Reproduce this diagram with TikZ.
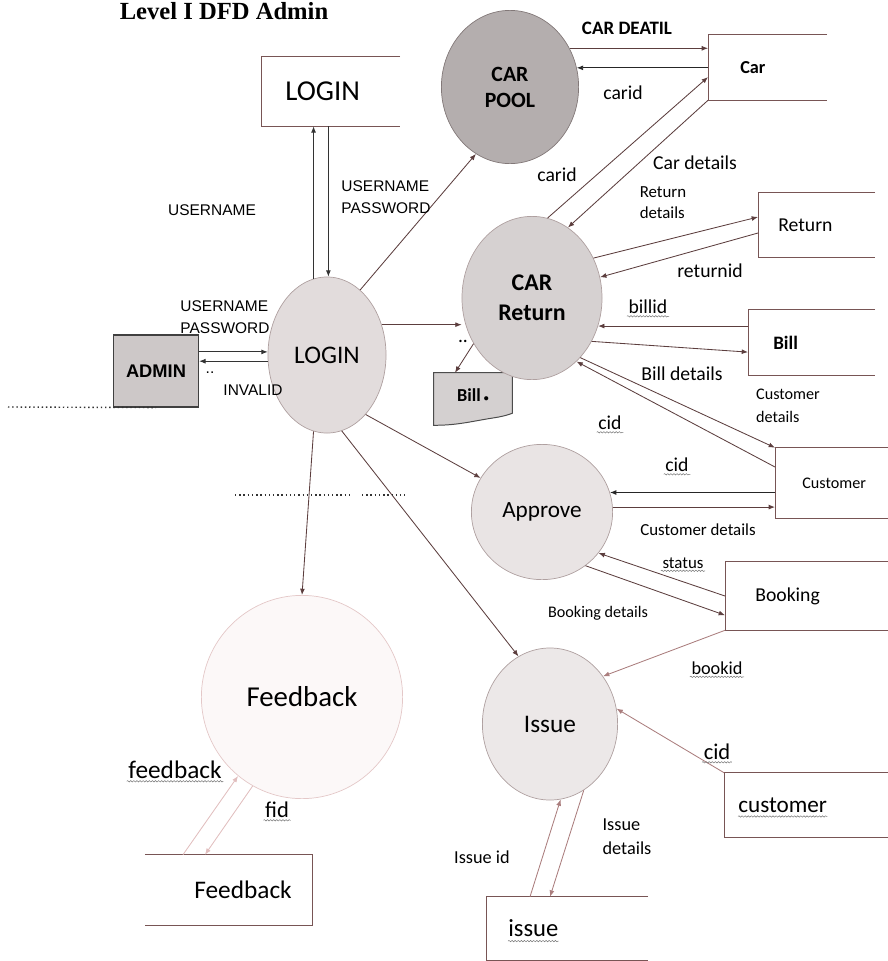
\documentclass[tikz,border=0pt]{standalone}
\usepackage{fontspec}
\setmainfont{Carlito}
\newfontfamily\arialfont{Liberation Sans}
\newfontfamily\timesfont{Liberation Serif}
\usetikzlibrary{arrows.meta,shapes.geometric,decorations.pathmorphing,backgrounds}
\definecolor{flowcol}{RGB}{92,62,62}
\definecolor{lightcol}{RGB}{170,125,125}
\definecolor{faintcol}{RGB}{225,190,190}
\definecolor{storecol}{RGB}{120,85,85}
\definecolor{procline}{RGB}{175,160,160}
\definecolor{poolline}{RGB}{130,120,120}
\definecolor{feedline}{RGB}{228,200,200}
\definecolor{poolfill}{RGB}{180,174,174}
\definecolor{retfill}{RGB}{214,209,209}
\definecolor{loginfill}{RGB}{226,220,220}
\definecolor{apprfill}{RGB}{233,228,228}
\definecolor{issuefill}{RGB}{236,232,232}
\definecolor{feedfill}{RGB}{252,248,248}
\definecolor{admfill}{RGB}{205,200,200}
\definecolor{docfill}{RGB}{212,208,208}
% open data store: top, left and bottom side
\newcommand{\openstore}[2]{\draw[storeline] ([xshift=#2]#1.north west) -- (#1.north west) -- (#1.south west) -- ([xshift=#2]#1.south west);}
\newcommand{\openstoreL}[2]{\draw[storeline] ([xshift=-#2]#1.north east) -- (#1.north east) -- (#1.south east) -- ([xshift=-#2]#1.south east);}

\begin{document}
\begin{tikzpicture}[x=0.025cm,y=-0.025cm,
    proc/.style={ellipse,draw=procline,line width=0.5pt,inner sep=0pt,align=center},
    store/.style={rectangle,anchor=west,inner ysep=0pt},
    storeline/.style={draw=storecol,line width=0.6pt},
    flow/.style={draw=flowcol,line width=0.6pt,-{Latex[length=4.5pt,width=3.5pt]}},
    lightflow/.style={flow,draw=lightcol},
    faintflow/.style={flow,draw=faintcol},
    lbl/.style={inner sep=1pt,align=left,font=\fontsize{14}{16}\selectfont},
    caps/.style={inner sep=1pt,align=left,font=\arialfont\fontsize{11}{16}\selectfont},
    squig/.style={draw=black!55,line width=0.35pt,decorate,decoration={snake,amplitude=0.5pt,segment length=2.2pt}},
    spell/.style={append after command={([yshift=-0.5pt]\tikzlastnode.south west) edge[squig] ([yshift=-0.5pt]\tikzlastnode.south east)}},
    dotline/.style={draw=black!80,dotted,line width=1pt}]
\useasboundingbox (0,0) rectangle (888,961);

\node[anchor=base,font=\timesfont\bfseries\fontsize{17.5}{20}\selectfont] (title) at (224,19) {Level I DFD Admin};

% processes
\node[proc,fill=poolfill,draw=poolline,minimum width=3.43cm,minimum height=3.83cm,font=\bfseries\fontsize{15.5}{18.5}\selectfont] (carpool) at (510,87) {CAR\\POOL};
\node[proc,fill=retfill,minimum width=3.5cm,minimum height=4.08cm,font=\bfseries\fontsize{17}{21}\selectfont] (carret) at (532,298) {CAR\\Return};
\node[proc,fill=loginfill,minimum width=2.95cm,minimum height=3.9cm,font=\fontsize{18}{20}\selectfont] (login) at (327,355) {LOGIN};
\node[proc,fill=apprfill,minimum width=3.53cm,minimum height=3.38cm,font=\fontsize{16.5}{19}\selectfont] (approve) at (542,512) {Approve};
\node[proc,fill=issuefill,minimum width=3.38cm,minimum height=3.8cm,font=\fontsize{18}{20}\selectfont] (issue) at (550,724) {Issue};
\node[proc,fill=feedfill,draw=feedline,minimum width=5.03cm,minimum height=5.08cm,font=\fontsize{20.5}{23}\selectfont] (feedback) at (302,697) {Feedback};

% admin and bill document
\node[rectangle,draw=black!75,fill=admfill,line width=0.8pt,minimum width=2.13cm,minimum height=1.8cm,font=\arialfont\bfseries\fontsize{13}{15}\selectfont] (admin) at (156,371) {ADMIN};
\node[minimum width=1.95cm,minimum height=1.1cm,inner sep=0pt,font=\bfseries\fontsize{13}{15}\selectfont] (billdoc) at (473,395) {Bill\,{\fontsize{7}{7}\selectfont\textbullet}};
\begin{scope}[on background layer]
\draw[draw=black!70,fill=docfill,line width=0.7pt] (billdoc.north west) -- (billdoc.north east) -- ([yshift=0.1cm]billdoc.south east) to[out=200,in=10] ([xshift=0.3cm,yshift=-0.05cm]billdoc.south) to[out=190,in=0] ([yshift=-0.2cm]billdoc.south west) -- cycle;
\end{scope}

% data stores
\node[store,minimum height=1.725cm,inner xsep=0.6cm,font=\fontsize{20.5}{23}\selectfont] (loginstore) at (261,91.5) {LOGIN};
\openstore{loginstore}{3.475cm}
\node[store,minimum height=1.625cm,inner xsep=0.8cm,font=\bfseries\fontsize{13}{15}\selectfont] (car) at (708,67.5) {Car};
\openstore{car}{2.975cm}
\node[store,minimum height=1.6cm,inner xsep=0.5cm,font=\fontsize{14}{16}\selectfont] (retstore) at (758,225) {Return};
\openstore{retstore}{2.925cm}
\node[store,minimum height=1.625cm,inner xsep=0.625cm,font=\bfseries\fontsize{13.5}{16}\selectfont] (billstore) at (748,342.5) {Bill};
\openstore{billstore}{3.175cm}
\node[store,minimum height=1.75cm,inner xsep=0.675cm,font=\fontsize{11.5}{14}\selectfont] (custstore) at (775,483) {Customer};
\openstore{custstore}{3cm}
\node[store,minimum height=1.7cm,inner xsep=0.75cm,font=\fontsize{14}{16}\selectfont] (bookstore) at (725,596) {Booking};
\openstore{bookstore}{4.1cm}
\node[store,minimum height=1.6cm,inner xsep=0.35cm,font=\fontsize{16.5}{19}\selectfont] (custlow) at (724,805) {customer};
\openstore{custlow}{4.1cm}
\draw[squig] ([xshift=0.35cm,yshift=-3pt]custlow.base west) -- ([xshift=-0.35cm,yshift=-3pt]custlow.base east);
\node[store,minimum height=1.575cm,inner xsep=0.55cm,font=\fontsize{17.5}{20}\selectfont] (issuestore) at (486,928.5) {issue};
\openstore{issuestore}{4.05cm}
\draw[squig] ([xshift=0.55cm,yshift=-3pt]issuestore.base west) -- ([xshift=-0.55cm,yshift=-3pt]issuestore.base east);
\node[store,anchor=east,minimum height=1.75cm,inner xsep=0.5cm,font=\fontsize{18}{20}\selectfont] (fbstore) at (312,890) {Feedback};
\openstoreL{fbstore}{4.175cm}

% flows
\draw[flow,draw=black!80] (login.100) -- (login.100 |- loginstore.south);
\draw[flow,draw=black!80] (login.89 |- loginstore.south) -- (login.89);
\draw[flow,draw=black!80] (admin.east |- login.177) -- (login.177);
\draw[flow,draw=black!80] (login.186) -- (admin.east |- login.186);
\draw[flow] (login.63) -- (carpool.243);
\draw[flow] (login.29) -- (carret.west |- login.29);
\draw[flow] (login.260) -- (feedback.north);
\draw[flow] (login.303) -- (approve.151);
\draw[flow] (login.281) -- (issue.115);
\draw[flow] (carpool.33) -- (carpool.33 -| car.west);
\draw[flow,draw=black!85] (carpool.16 -| car.west) -- (carpool.16);
\draw[flow] (carret.79) -- ([yshift=-0.24cm]car.west);
\draw[flow] (car.south west) -- (carret.63);
\draw[flow] (carret.33) -- ([yshift=0.2cm]retstore.west);
\draw[flow] ([yshift=-0.2cm]retstore.west) -- (carret.17);
\draw[flow] (carret.337 -| billstore.west) -- (carret.337);
\draw[flow] (carret.324) -- ([yshift=-0.24cm]billstore.west);
\draw[flow] (carret.218) -- ([xshift=-0.45cm]billdoc.north);
\draw[flow] ([yshift=0.4cm]custstore.west) -- (carret.305);
\draw[flow] (carret.309) -- (custstore.north west);
\draw[flow,draw=black!85] (approve.16 -| custstore.west) -- (approve.16);
\draw[flow] (approve.4) -- (approve.4 -| custstore.west);
\draw[flow] (bookstore.west) -- (approve.324);
\draw[flow] (approve.309) -- ([yshift=-0.48cm]bookstore.west);
\draw[lightflow] (bookstore.south west) -- (issue.42);
\draw[lightflow] (custlow.north west) -- (issue.13);
\draw[lightflow] ([xshift=1.1cm]issuestore.north west) -- (issue.278);
\draw[lightflow] (issue.297) -- ([xshift=1.6cm]issuestore.north west);
\draw[faintflow] ([xshift=-3.225cm]fbstore.north east) -- (feedback.231);
\draw[faintflow] (feedback.241) -- ([xshift=-2.675cm]fbstore.north east);

% stray dotted lines
\coordinate (dotL) at (8,407);
\coordinate (dotA) at (235,495);
\coordinate (dotB) at (350,495);
\coordinate (dotC) at (362,495);
\coordinate (dotD) at (405,495);
\draw[dotline] (dotL) -- (admin.south);
\draw[dotline] (dotA) -- (dotB);
\draw[dotline] (dotC) -- (dotD);

% labels
\node[caps] (unlbl) at (212,210) {USERNAME};
\node[caps] (unpw1) at (386,197) {USERNAME\\PASSWORD};
\node[caps] (unpw2) at (225,317) {USERNAME\\PASSWORD};
\node[caps] (invlbl) at (253,390) {INVALID};
\node[caps] (dots1) at (210,373) {..};
\node[lbl,font=\bfseries\fontsize{13.5}{16}\selectfont] (cardeatil) at (627,28) {CAR DEATIL};
\node[lbl] (carid1) at (623,93) {carid};
\node[lbl] (carid2) at (557,175) {carid};
\node[lbl] (cardet) at (695,163) {Car details};
\node[lbl,font=\fontsize{12}{15}\selectfont] (retdet) at (663,203) {Return\\details};
\node[lbl] (retid) at (710,271) {returnid};
\node[lbl,spell] (billid) at (648,307) {billid};
\node[lbl] (billdet) at (682,374) {Bill details};
\node[lbl] (dots2) at (463,341) {..};
\node[lbl,font=\fontsize{11.5}{16.5}\selectfont] (custdet1) at (788,406) {Customer\\details};
\node[lbl,spell] (cid1) at (610,423) {cid};
\node[lbl,spell] (cid2) at (677,465) {cid};
\node[lbl,font=\fontsize{12}{14}\selectfont] (custdet2) at (698,530) {Customer details};
\node[lbl,spell,font=\fontsize{12}{14}\selectfont] (status) at (683,563) {status};
\node[lbl,font=\fontsize{11.5}{14}\selectfont] (bookdet) at (598,613) {Booking details};
\node[lbl,spell,font=\fontsize{13}{15}\selectfont] (bookid) at (717,668) {bookid};
\node[lbl,spell,font=\fontsize{16}{18}\selectfont] (cid3) at (717,752) {cid};
\node[lbl,font=\fontsize{13}{17}\selectfont] (issuedet) at (627,837) {Issue\\details};
\node[lbl,font=\fontsize{13}{15}\selectfont] (issueid) at (482,857) {Issue id};
\node[lbl,spell,font=\fontsize{18}{20}\selectfont] (feedlbl) at (175,770) {feedback};
\node[lbl,spell,font=\fontsize{16}{18}\selectfont] (fid) at (277,810) {fid};
\end{tikzpicture}
\end{document}
